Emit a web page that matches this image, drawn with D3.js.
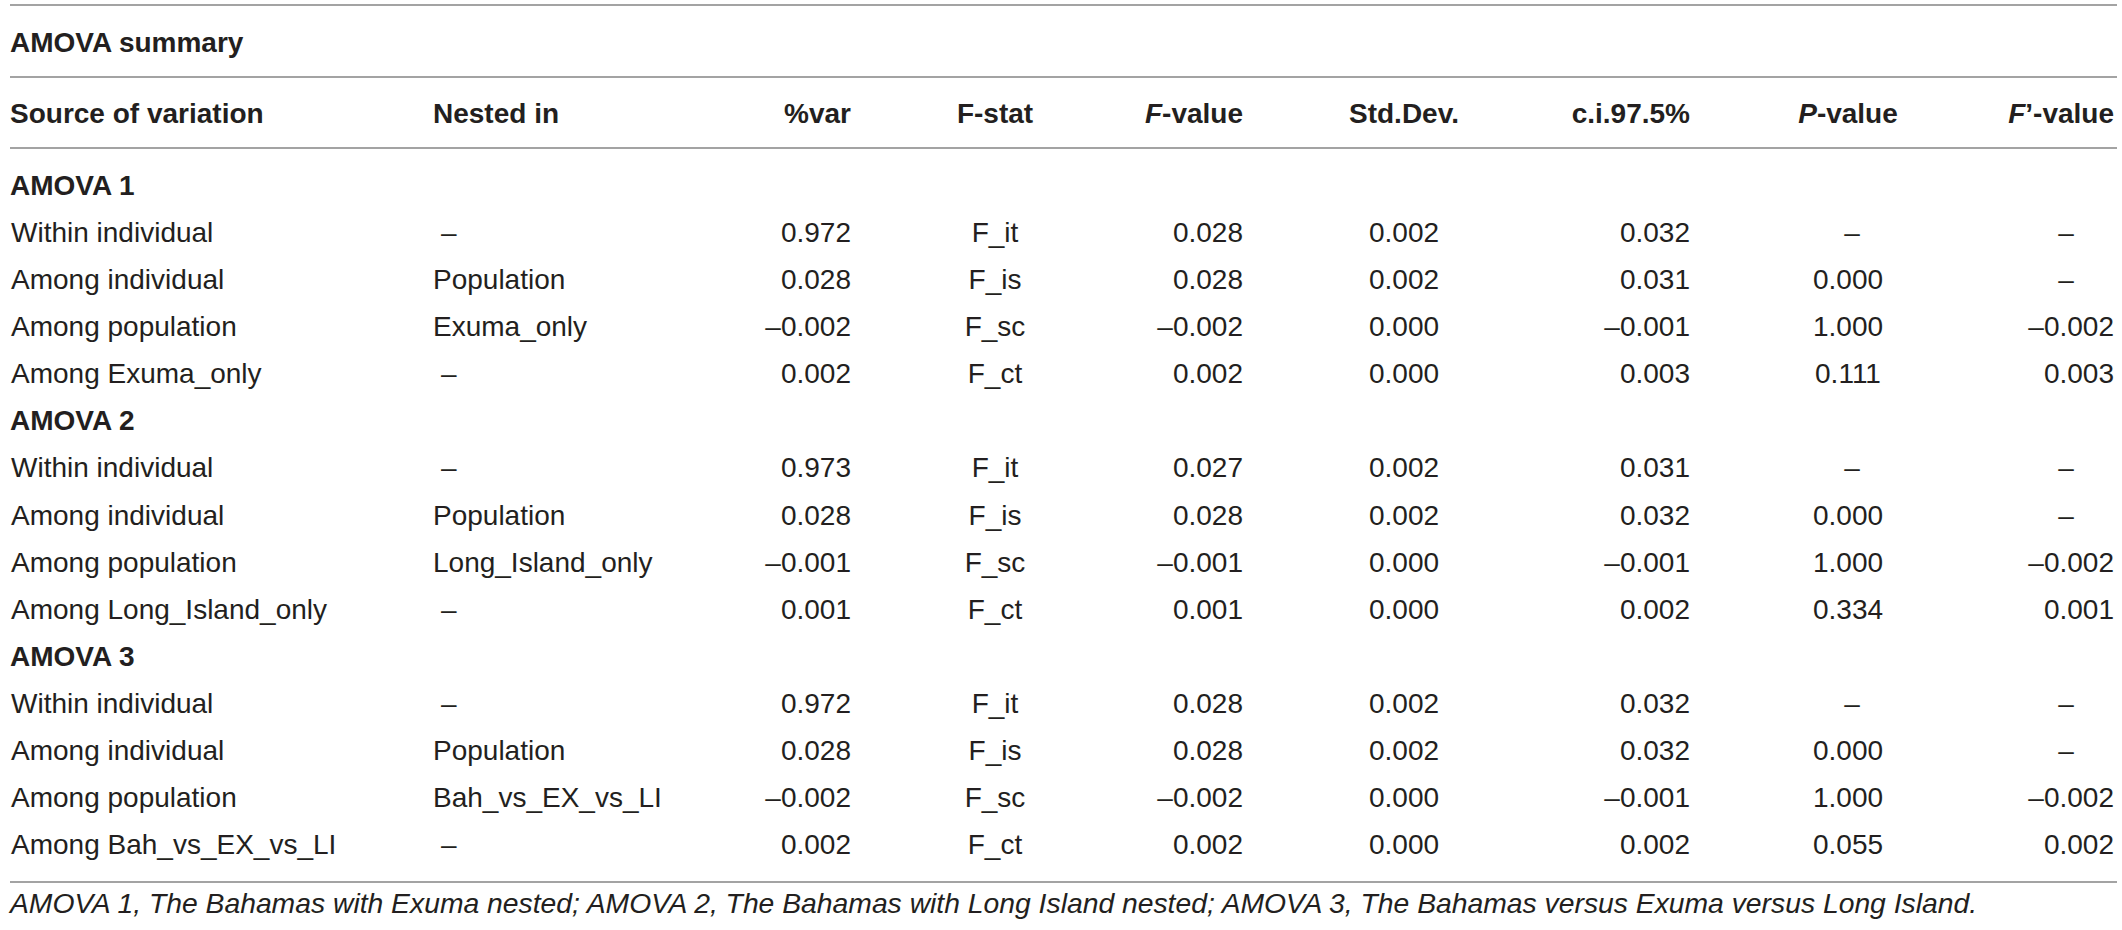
<!DOCTYPE html>
<html>
<head>
<meta charset="utf-8">
<script src="https://cdn.jsdelivr.net/npm/d3@7"></script>
<style>
  html, body { margin: 0; padding: 0; background: #ffffff; }
  svg { display: block; }
  text { font-family: "Liberation Sans", Arial, Helvetica, sans-serif; fill: #231f20; }
</style>
</head>
<body>
<svg id="chart" width="2122" height="930"></svg>
<script>
// ---------------- data ----------------
const title = "AMOVA summary";
const groups = ["AMOVA 1", "AMOVA 2", "AMOVA 3"];
const sources = [
  ["Within individual", "Among individual", "Among population", "Among Exuma_only"],
  ["Within individual", "Among individual", "Among population", "Among Long_Island_only"],
  ["Within individual", "Among individual", "Among population", "Among Bah_vs_EX_vs_LI"]
];
const nestedIn = [
  [null, "Population", "Exuma_only", null],
  [null, "Population", "Long_Island_only", null],
  [null, "Population", "Bah_vs_EX_vs_LI", null]
];
const pctVar = [
  [0.972, 0.028, -0.002, 0.002],
  [0.973, 0.028, -0.001, 0.001],
  [0.972, 0.028, -0.002, 0.002]
];
const fStat = ["F_it", "F_is", "F_sc", "F_ct"];
const fValue = [
  [0.028, 0.028, -0.002, 0.002],
  [0.027, 0.028, -0.001, 0.001],
  [0.028, 0.028, -0.002, 0.002]
];
const stdDev = [
  [0.002, 0.002, 0.000, 0.000],
  [0.002, 0.002, 0.000, 0.000],
  [0.002, 0.002, 0.000, 0.000]
];
const ci975 = [
  [0.032, 0.031, -0.001, 0.003],
  [0.031, 0.032, -0.001, 0.002],
  [0.032, 0.032, -0.001, 0.002]
];
const pValue = [
  [null, 0.000, 1.000, 0.111],
  [null, 0.000, 1.000, 0.334],
  [null, 0.000, 1.000, 0.055]
];
const fPrime = [
  [null, null, -0.002, 0.003],
  [null, null, -0.002, 0.001],
  [null, null, -0.002, 0.002]
];
const footnote = "AMOVA 1, The Bahamas with Exuma nested; AMOVA 2, The Bahamas with Long Island nested; AMOVA 3, The Bahamas versus Exuma versus Long Island.";

// headers: arrays of [text, italic]
const headers = [
  { key: "source", parts: [["Source of variation", false]] },
  { key: "nested", parts: [["Nested in", false]] },
  { key: "pct", parts: [["%var", false]] },
  { key: "fstat", parts: [["F-stat", false]] },
  { key: "fval", parts: [["F", true], ["-value", false]] },
  { key: "sd", parts: [["Std.Dev.", false]] },
  { key: "ci", parts: [["c.i.97.5%", false]] },
  { key: "p", parts: [["P", true], ["-value", false]] },
  { key: "fp", parts: [["F", true], ["\u2019-value", false]] }
];

// ---------------- layout ----------------
const W = 2122, H = 930;
const FS = 28;
const lineX0 = 10, lineX1 = 2117;
const colX = {
  source: 11, nested: 433, pct: 851, fstat: 995, fval: 1243,
  sd: 1404, ci: 1690, p: 1848, fp: 2114
};
const colAnchor = {
  source: "start", nested: "start", pct: "end", fstat: "middle", fval: "end",
  sd: "middle", ci: "end", p: "middle", fp: "end"
};
const dashPos = {
  nested: [441, "start"], p: [1852, "middle"], fp: [2066, "middle"]
};

const fmt = v => {
  const s = d3.format(".3f")(Math.abs(v));
  return (v < 0 ? "\u2013" : "") + s;
};

// build rows
const rows = [];
groups.forEach((g, gi) => {
  rows.push({ type: "group", label: g });
  sources[gi].forEach((s, ri) => {
    rows.push({
      type: "data",
      cells: {
        source: s,
        nested: nestedIn[gi][ri],
        pct: fmt(pctVar[gi][ri]),
        fstat: fStat[ri],
        fval: fmt(fValue[gi][ri]),
        sd: fmt(stdDev[gi][ri]),
        ci: fmt(ci975[gi][ri]),
        p: pValue[gi][ri] === null ? null : fmt(pValue[gi][ri]),
        fp: fPrime[gi][ri] === null ? null : fmt(fPrime[gi][ri])
      }
    });
  });
});

const y = d3.scalePoint()
  .domain(d3.range(rows.length))
  .range([195, 854]);

const svg = d3.select("#chart");

// rules
const rules = [5, 77, 148, 882];
svg.selectAll("line.rule").data(rules).join("line")
  .attr("class", "rule")
  .attr("x1", lineX0).attr("x2", lineX1)
  .attr("y1", d => d).attr("y2", d => d)
  .attr("stroke", "#a3a3a3").attr("stroke-width", 2);

// title
svg.append("text")
  .attr("x", 10).attr("y", 52)
  .attr("font-size", FS).attr("font-weight", "bold")
  .text(title);

// header
const hdr = svg.selectAll("text.hdr").data(headers).join("text")
  .attr("class", "hdr")
  .attr("x", d => d.key === "source" ? 10 : colX[d.key])
  .attr("y", 123)
  .attr("text-anchor", d => colAnchor[d.key])
  .attr("font-size", FS).attr("font-weight", "bold");
hdr.selectAll("tspan").data(d => d.parts).join("tspan")
  .attr("font-style", d => d[1] ? "italic" : "normal")
  .text(d => d[0]);

// group rows
svg.selectAll("text.group").data(rows.map((r, i) => ({ r, i })).filter(d => d.r.type === "group"))
  .join("text")
  .attr("class", "group")
  .attr("x", 10).attr("y", d => y(d.i))
  .attr("font-size", FS).attr("font-weight", "bold")
  .text(d => d.r.label);

// data cells
const cellData = [];
rows.forEach((r, i) => {
  if (r.type !== "data") return;
  Object.keys(colX).forEach(k => {
    const v = r.cells[k];
    if (v === null || v === undefined) {
      if (dashPos[k]) cellData.push({ i, x: dashPos[k][0], anchor: dashPos[k][1], t: "\u2013" });
    } else {
      cellData.push({ i, x: colX[k], anchor: colAnchor[k], t: v });
    }
  });
});
svg.selectAll("text.cell").data(cellData).join("text")
  .attr("class", "cell")
  .attr("x", d => d.x).attr("y", d => y(d.i))
  .attr("text-anchor", d => d.anchor)
  .attr("font-size", FS)
  .text(d => d.t);

// footnote
svg.append("text")
  .attr("x", 10).attr("y", 913)
  .attr("font-size", 28.3).attr("font-style", "italic")
  .text(footnote);
</script>
</body>
</html>
